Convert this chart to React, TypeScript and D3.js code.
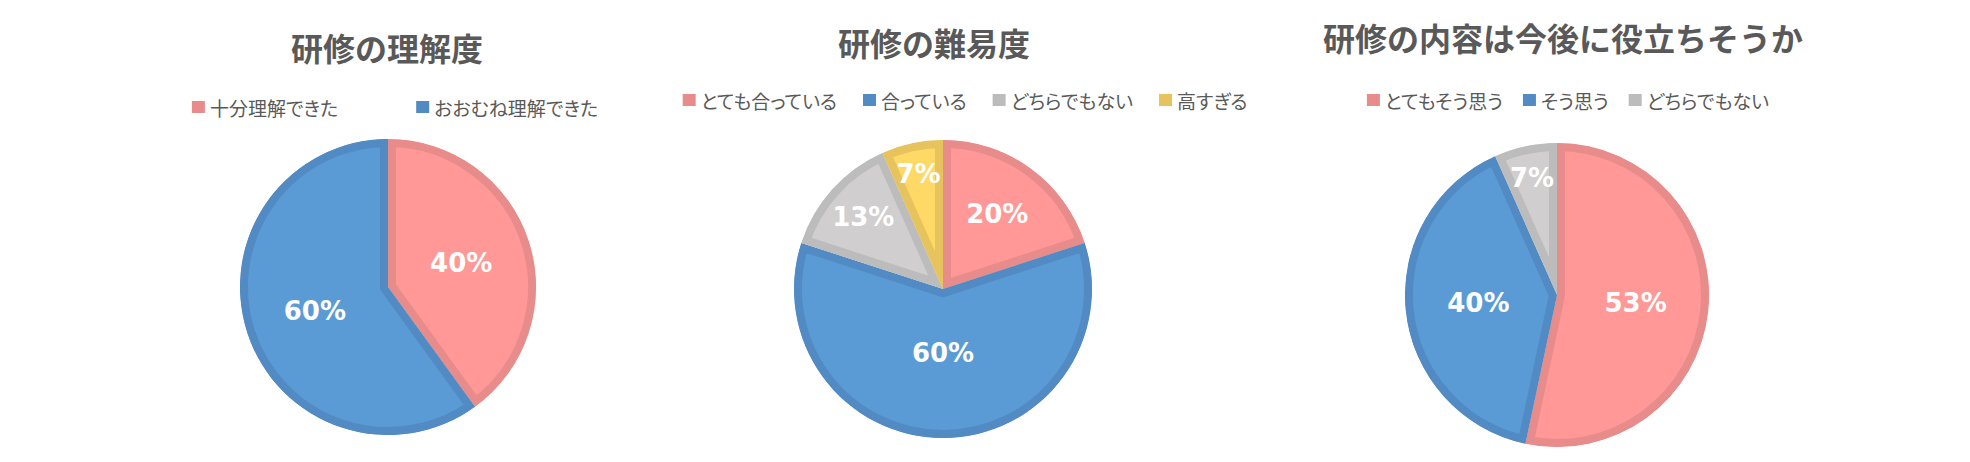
import { useEffect, useRef } from "react";
import * as d3 from "d3";

const WIDTH = 1970;
const HEIGHT = 462;

// chart titles
const titles = ["研修の理解度", "研修の難易度", "研修の内容は今後に役立ちそうか"];

// chart 1: 理解度 (counts of 15 respondents)
const understandLabels = ["十分理解できた", "おおむね理解できた"];
const understandValues = [6, 9];

// chart 2: 難易度
const difficultyLabels = ["とても合っている", "合っている", "どちらでもない", "高すぎる"];
const difficultyValues = [3, 9, 2, 1];

// chart 3: 役立ちそうか
const usefulLabels = ["とてもそう思う", "そう思う", "どちらでもない"];
const usefulValues = [8, 6, 1];

const FILLS = ["#FF9896", "#5B9BD5", "#D0CECE", "#FFD966"];
const BORDERS = ["#E88B8B", "#528BC3", "#BDBCBC", "#E6C35C"];

const TEXT_COLOR = "#595959";
const CJK = "'Noto Sans CJK JP', sans-serif";

// layout of each panel
const PANELS = [
  { cx: 388, cy: 287, r: 148, titleX: 387, titleY: 47, legendX: 395, legendY: 107, legendGap: 78, bigFrac: 0.52 },
  { cx: 943, cy: 289, r: 149, titleX: 934, titleY: 42, legendX: 965, legendY: 100, legendGap: 26, bigFrac: 0.43 },
  { cx: 1557, cy: 295, r: 152, titleX: 1563, titleY: 37, legendX: 1568, legendY: 100, legendGap: 20, bigFrac: 0.53 },
];

const charts = [
  { labels: understandLabels, values: understandValues },
  { labels: difficultyLabels, values: difficultyValues },
  { labels: usefulLabels, values: usefulValues },
];

// Excel pushes labels of thin slices towards the rim
const labelFraction = (share: number, big: number) =>
  share < 0.1 ? 0.79 : share < 0.15 ? 0.72 : share < 0.3 ? 0.62 : share > 0.55 && big < 0.5 ? big : 0.52;

export default function App() {
  const ref = useRef<SVGSVGElement>(null);

  useEffect(() => {
    document.body.style.margin = "0";
    const svg = d3.select(ref.current);
    svg.selectAll("*").remove();
    const defs = svg.append("defs");

    charts.forEach((chart, ci) => {
      const p = PANELS[ci];
      const total = d3.sum(chart.values);
      const g = svg.append("g");

      // title
      g.append("text")
        .attr("x", p.titleX)
        .attr("y", p.titleY)
        .attr("text-anchor", "middle")
        .attr("dominant-baseline", "central")
        .attr("font-family", CJK)
        .attr("font-weight", "bold")
        .attr("font-size", 32)
        .attr("fill", TEXT_COLOR)
        .text(titles[ci]);

      // legend: measure, then centre the row
      const leg = g.append("g");
      const items = chart.labels.map((label, i) => {
        const it = leg.append("g");
        it.append("rect")
          .attr("width", 13)
          .attr("height", 12)
          .attr("y", -6)
          .attr("fill", BORDERS[i]);
        const t = it.append("text")
          .attr("x", 18)
          .attr("dominant-baseline", "central")
          .attr("font-family", CJK)
          .attr("font-size", 19)
          .attr("fill", TEXT_COLOR)
          .style("font-feature-settings", "'palt'")
          .text(label);
        const w = 18 + (t.node() as SVGTextElement).getComputedTextLength();
        return { it, w };
      });
      const legW = d3.sum(items, (d) => d.w) + p.legendGap * (items.length - 1);
      let lx = p.legendX - legW / 2;
      items.forEach(({ it, w }) => {
        it.attr("transform", `translate(${lx},${p.legendY})`);
        lx += w + p.legendGap;
      });

      // pie, with the border drawn on the inside of each slice
      const pie = d3.pie<number>().sort(null).value((d) => d);
      const arcs = pie(chart.values);
      const arc = d3.arc<d3.PieArcDatum<number>>().innerRadius(0).outerRadius(p.r);
      const pg = g.append("g").attr("transform", `translate(${p.cx},${p.cy})`);

      arcs.forEach((a, i) => {
        const id = `clip-${ci}-${i}`;
        defs.append("clipPath")
          .attr("id", id)
          .append("path")
          .attr("d", arc(a) as string);
        pg.append("path")
          .attr("d", arc(a) as string)
          .attr("fill", FILLS[i])
          .attr("stroke", BORDERS[i])
          .attr("stroke-width", 16)
          .attr("stroke-linejoin", "miter")
          .attr("clip-path", `url(#${id})`);
      });

      // percentage labels
      arcs.forEach((a) => {
        const share = a.data / total;
        const lr = p.r * labelFraction(share, p.bigFrac);
        const mid = (a.startAngle + a.endAngle) / 2;
        pg.append("text")
          .attr("x", Math.sin(mid) * lr)
          .attr("y", -Math.cos(mid) * lr)
          .attr("text-anchor", "middle")
          .attr("dominant-baseline", "central")
          .attr("font-family", "'DejaVu Sans', sans-serif")
          .attr("font-weight", "bold")
          .attr("font-size", 26)
          .attr("fill", "#FFFFFF")
          .text(d3.format(".0%")(share));
      });
    });
  }, []);

  return <svg ref={ref} width={WIDTH} height={HEIGHT} style={{ display: "block", background: "#fff" }} />;
}
